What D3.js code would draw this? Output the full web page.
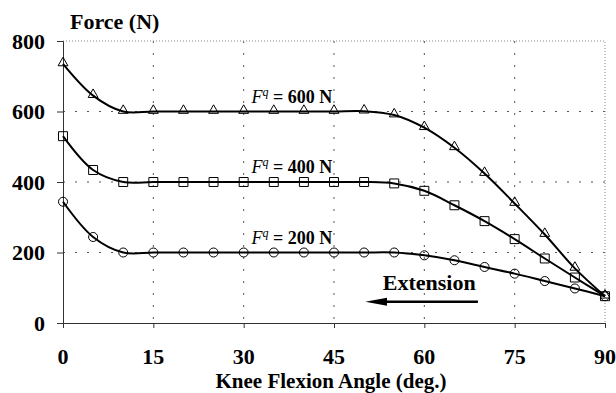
<!DOCTYPE html>
<html>
<head>
<meta charset="utf-8">
<script src="https://cdn.jsdelivr.net/npm/d3@7"></script>
<style>
  body { margin: 0; background: #fff; }
  text { font-family: "Liberation Serif", "Times New Roman", "DejaVu Serif", serif; font-weight: bold; }
</style>
</head>
<body>
<svg id="chart" width="616" height="393"></svg>
<script>
// Knee flexion angles (deg.)
const angles = [0, 5, 10, 15, 20, 25, 30, 35, 40, 45, 50, 55, 60, 65, 70, 75, 80, 85, 90];

// Force for each applied load (N)
const force600 = [735, 645, 600, 600, 600, 600, 600, 600, 600, 600, 601, 590, 554, 497, 424, 339, 251, 155, 76];
const force400 = [530, 434, 400, 400, 400, 400, 400, 400, 400, 400, 400, 396, 375, 334, 289, 238, 183, 129, 76];
const force200 = [344, 244, 200, 200, 200, 200, 200, 200, 200, 200, 200, 200, 192, 178, 159, 140, 119, 98, 76];

const seriesNames = ["600", "400", "200"];
const xTicks = [0, 15, 30, 45, 60, 75, 90];
const yTicks = [0, 200, 400, 600, 800];

const serif = "Liberation Serif";

const svg = d3.select("#chart"),
      margin = { top: 41, right: 11, bottom: 70, left: 63 },
      width = +svg.attr("width") - margin.left - margin.right,
      height = +svg.attr("height") - margin.top - margin.bottom;

svg.attr("font-family", serif).attr("font-weight", "bold");

const g = svg.append("g")
  .attr("transform", `translate(${margin.left},${margin.top})`);

const x = d3.scaleLinear().domain([0, 90]).range([0, width]);
const y = d3.scaleLinear().domain([0, 800]).range([height, 0]);

// dotted grid
g.selectAll(".hgrid")
  .data([200, 400, 600])
  .enter().append("line")
  .attr("x1", 0).attr("x2", width)
  .attr("y1", d => y(d)).attr("y2", d => y(d))
  .attr("stroke", "#555").attr("stroke-width", 1)
  .attr("stroke-dasharray", "2,10");

g.selectAll(".vgrid")
  .data([15, 30, 45, 60, 75])
  .enter().append("line")
  .attr("y1", 0).attr("y2", height)
  .attr("x1", d => x(d)).attr("x2", d => x(d))
  .attr("stroke", "#555").attr("stroke-width", 1)
  .attr("stroke-dasharray", "2,10");

// top and right border (fine dots)
g.append("path")
  .attr("d", `M0,${y(800)}H${x(90)}V${y(0)}`)
  .attr("fill", "none")
  .attr("stroke", "#888").attr("stroke-width", 1)
  .attr("stroke-dasharray", "1,2");

// axes
const xAxis = g.append("g")
  .attr("transform", `translate(0,${height})`)
  .call(d3.axisBottom(x).tickValues(xTicks).tickSize(5).tickFormat(""));
const yAxis = g.append("g")
  .call(d3.axisLeft(y).tickValues(yTicks).tickSize(6).tickFormat(""));
[xAxis, yAxis].forEach(a => {
  a.select(".domain").attr("stroke", "#333");
  a.selectAll(".tick line").attr("stroke", "#333");
});

// tick labels
g.selectAll(".xlab")
  .data(xTicks)
  .enter().append("text")
  .attr("font-family", serif)
  .attr("x", d => x(d))
  .attr("y", height + 41)
  .attr("text-anchor", "middle")
  .attr("font-size", "22px")
  .text(d => d);

g.selectAll(".ylab")
  .data(yTicks)
  .enter().append("text")
  .attr("font-family", serif)
  .attr("x", -18)
  .attr("y", d => y(d))
  .attr("dy", "0.35em")
  .attr("text-anchor", "end")
  .attr("font-size", "22px")
  .text(d => d);

// lines and markers
const data = [force600, force400, force200].map((vals, i) => ({
  name: seriesNames[i],
  points: angles.map((a, j) => ({ a: a, f: vals[j] }))
}));

const line = d3.line()
  .x(d => x(d.a))
  .y(d => y(d.f))
  .curve(d3.curveCatmullRom.alpha(0.5));

g.selectAll(".series")
  .data(data)
  .enter().append("path")
  .attr("d", d => line(d.points))
  .attr("fill", "none")
  .attr("stroke", "#000")
  .attr("stroke-width", 2);

const symbols = [
  d3.symbol().type(d3.symbolTriangle).size(42),
  d3.symbol().type(d3.symbolSquare).size(80),
  d3.symbol().type(d3.symbolCircle).size(64)
];

data.forEach((s, i) => {
  g.selectAll(".m" + i)
    .data(s.points)
    .enter().append("path")
    .attr("d", symbols[i])
    .attr("transform", d => `translate(${x(d.a)},${y(d.f) + (i === 0 ? -1 : 0)})`)
    .attr("fill", "none")
    .attr("stroke", "#000")
    .attr("stroke-width", 1);
});

// series labels  F^q = ... N
data.forEach(s => {
  const t = g.append("text")
    .attr("font-family", serif)
    .attr("x", x(31.3))
    .attr("y", y(+s.name) - 9)
    .attr("font-size", "18px");
  t.append("tspan").attr("font-style", "italic").attr("font-weight", "normal").text("F");
  t.append("tspan").attr("font-style", "italic").attr("font-weight", "normal")
    .attr("font-size", "12px").attr("dy", "-7").text("q");
  t.append("tspan").attr("dy", "7").text(` = ${s.name} N`);
});

// Extension annotation
g.append("text")
  .attr("font-family", serif)
  .attr("x", x(53.1))
  .attr("y", y(93))
  .attr("font-size", "22px")
  .text("Extension");

const ay = y(60);
g.append("line")
  .attr("x1", x(68.9)).attr("x2", x(52))
  .attr("y1", ay).attr("y2", ay)
  .attr("stroke", "#000").attr("stroke-width", 2.5);
g.append("path")
  .attr("d", `M${x(50.2)},${ay}L${x(53.8)},${ay - 4}L${x(53.8)},${ay + 4}Z`)
  .attr("fill", "#000");

// axis titles
svg.append("text")
  .attr("font-family", serif)
  .attr("x", 70)
  .attr("y", 29)
  .attr("font-size", "22px")
  .text("Force (N)");

svg.append("text")
  .attr("font-family", serif)
  .attr("x", margin.left + x(45) - 3)
  .attr("y", 388)
  .attr("text-anchor", "middle")
  .attr("font-size", "21px")
  .text("Knee Flexion Angle (deg.)");
</script>
</body>
</html>
